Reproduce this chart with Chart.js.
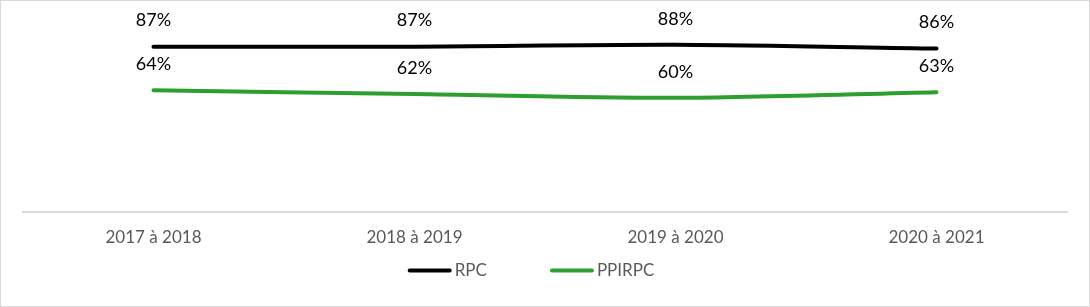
<!DOCTYPE html>
<html>
<head>
<meta charset="utf-8">
<script src="https://cdn.jsdelivr.net/npm/chart.js@4"></script>
<style>
  html, body { margin: 0; padding: 0; background: #fff; }
  .wrap { width: 1088px; height: 305px; border: 1px solid #d9d9d9; position: relative; }
</style>
</head>
<body>
<div class="wrap"><canvas id="chart" width="1088" height="305"></canvas></div>
<script>
// Données
const periodes = ['2017 à 2018', '2018 à 2019', '2019 à 2020', '2020 à 2021'];
const rpc = [87, 87, 88, 86];
const ppirpc = [64, 62, 60, 63];

const police = 'Lato, "Open Sans", sans-serif';

// Étiquettes au-dessus des points + légende façon Excel
const etiquettes = {
    id: 'etiquettes',
    afterDatasetsDraw(chart) {
        const ctx = chart.ctx;
        ctx.save();
        ctx.font = '18px ' + police;
        ctx.fillStyle = '#000';
        ctx.textAlign = 'center';
        ctx.textBaseline = 'middle';
        chart.data.datasets.forEach((ds, i) => {
            chart.getDatasetMeta(i).data.forEach((pt, j) => {
                ctx.fillText(ds.data[j] + '%', pt.x, pt.y - 26);
            });
        });

        // Légende
        const area = chart.chartArea;
        const y = area.bottom + 59;
        ctx.font = '17px ' + police;
        ctx.textAlign = 'left';
        const items = chart.data.datasets.map(ds => ({ ds, w: 44 + 3 + ctx.measureText(ds.label).width }));
        const total = items.reduce((s, it) => s + it.w, 0) + 63 * (items.length - 1);
        let x = (area.left + area.right) / 2 - 14 - total / 2;
        items.forEach(it => {
            ctx.strokeStyle = it.ds.borderColor;
            ctx.lineWidth = 4;
            ctx.lineCap = 'round';
            ctx.beginPath();
            ctx.moveTo(x + 2, y);
            ctx.lineTo(x + 42, y);
            ctx.stroke();
            ctx.fillStyle = '#595959';
            ctx.fillText(it.ds.label, x + 47, y);
            x += it.w + 63;
        });
        ctx.restore();
    }
};

const ctx = document.getElementById('chart').getContext('2d');

new Chart(ctx, {
    type: 'line',
    data: {
        labels: periodes,
        datasets: [
            { label: 'RPC', data: rpc, borderColor: '#000000', backgroundColor: '#000000', borderWidth: 4, borderCapStyle: 'round', pointRadius: 0, tension: 0.3 },
            { label: 'PPIRPC', data: ppirpc, borderColor: '#2e9e2e', backgroundColor: '#2e9e2e', borderWidth: 4, borderCapStyle: 'round', pointRadius: 0, tension: 0.3 }
        ]
    },
    options: {
        responsive: false,
        animation: false,
        layout: { padding: { left: 22, right: 22, top: 21, bottom: 50 } },
        plugins: {
            tooltip: { enabled: false },
            legend: { display: false }
        },
        scales: {
            x: {
                offset: true,
                grid: { display: false },
                border: { display: true, color: '#d9d9d9', width: 2 },
                ticks: { color: '#595959', font: { family: police, size: 17 }, padding: 8 }
            },
            y: {
                display: false,
                min: 0,
                max: 100
            }
        }
    },
    plugins: [etiquettes]
});
</script>
</body>
</html>
